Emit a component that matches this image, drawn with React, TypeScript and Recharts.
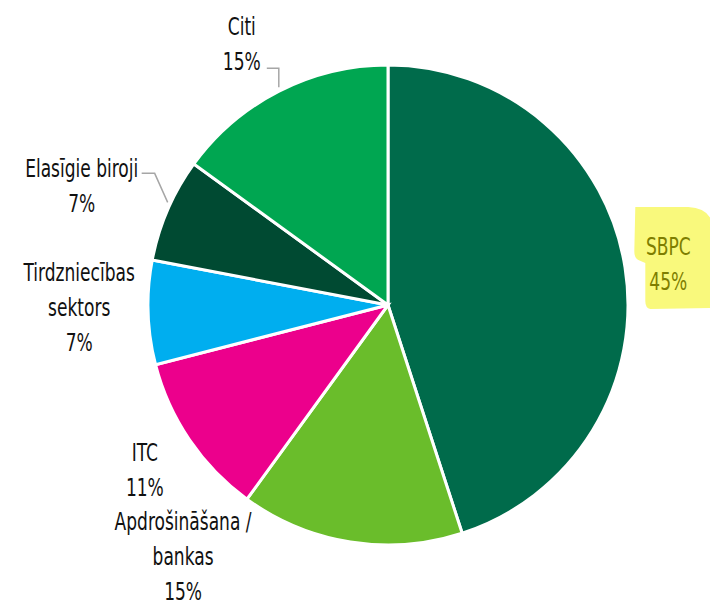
import { PieChart, Pie, Cell } from 'recharts';

const categories = [
    'SBPC',
    'Apdrošināšana /\nbankas',
    'ITC',
    'Tirdzniecības\nsektors',
    'Elasīgie biroji',
    'Citi',
];
const shares = [45, 15, 11, 7, 7, 15];

const colors = ['#006B4B', '#6ABD2B', '#EC008C', '#00AEEF', '#004A32', '#00A651'];

// manual nudges, the labels are placed by hand in the original
const labelNudge = [
    [-16, 5],
    [-158, -45],
    [5, -4],
    [-9, -7],
    [-31, 0],
    [-10, 6],
];
const leaders: Record<number, number[][]> = {
    4: [[60, -12.5], [73, -12.5], [86, 16.5]],
    5: [[25, 24.5], [37, 24.5], [37, 43.5]],
};

const data = categories.map((name, i) => ({ name, value: shares[i] }));

const RADIAN = Math.PI / 180;
const LINE = 35;
const FONT = '"DejaVu Sans Condensed", "Liberation Sans Narrow", sans-serif';

function renderLabel(props: any) {
    const { cx, cy, midAngle, index, value } = props;
    const r = 300;
    const x = cx + r * Math.cos(-midAngle * RADIAN) + labelNudge[index][0];
    const y = cy + r * Math.sin(-midAngle * RADIAN) + labelNudge[index][1];
    const lines = [...categories[index].split('\n'), `${value}%`];
    const y0 = y - ((lines.length - 1) * LINE) / 2 + 9;
    const isMain = index === 0;
    const lead = leaders[index];

    return (
        <g key={`label-${index}`}>
            {isMain && (
                <path
                    d={`M${x - 33},${y - 56} L${x + 20},${y - 56} Q${x + 40},${y - 55} ${x + 44},${y - 40}
                        L${x + 44},${y + 45} L${x - 18},${y + 46} Q${x - 23},${y + 45} ${x - 23},${y + 38}
                        L${x - 23},${y} L${x - 30},${y - 3} Q${x - 34},${y - 5} ${x - 34},${y - 12} Z`}
                    fill="#F9F97C"
                />
            )}
            {lead && (
                <polyline
                    points={lead.map(([dx, dy]) => `${x + dx},${y + dy}`).join(' ')}
                    fill="none"
                    stroke="#A6A6A6"
                    strokeWidth={1.5}
                />
            )}
            <g transform={`translate(${x},0) scale(0.79,1)`}>
                <text
                    x={0}
                    y={y0}
                    textAnchor="middle"
                    fontSize={24}
                    fontFamily={FONT}
                    fill={isMain ? '#7E7E00' : '#111111'}
                >
                    {lines.map((line, i) => (
                        <tspan key={i} x={0} dy={i === 0 ? 0 : LINE}>
                            {line}
                        </tspan>
                    ))}
                </text>
            </g>
        </g>
    );
}

function App() {
    return (
        <div style={{ position: 'absolute', left: 0, top: 0, background: '#fff' }}>
            <PieChart width={710} height={607} margin={{ top: 0, right: 0, bottom: 0, left: 0 }}>
                <Pie
                    data={data}
                    dataKey="value"
                    cx={388}
                    cy={305}
                    outerRadius={240}
                    startAngle={90}
                    endAngle={-270}
                    stroke="#ffffff"
                    strokeWidth={3}
                    label={renderLabel}
                    labelLine={false}
                    isAnimationActive={false}
                >
                    {data.map((entry, index) => (
                        <Cell key={`cell-${index}`} name={entry.name} fill={colors[index % colors.length]} />
                    ))}
                </Pie>
            </PieChart>
        </div>
    );
}

export default App;
